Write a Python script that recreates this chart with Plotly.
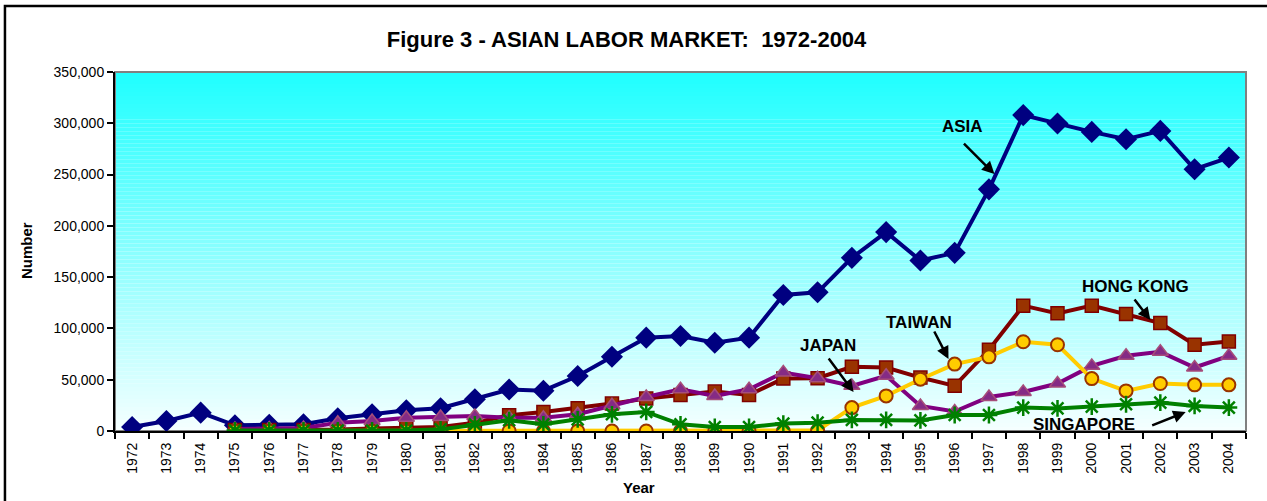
import plotly.graph_objects as go

# data
years = [str(y) for y in range(1972, 2005)]

asia = [3900, 9800, 17900, 5500, 6000, 6500, 12400, 16300, 20200, 22200, 31000,
        40500, 39300, 53600, 72400, 91000, 92600, 86100, 91000, 132600, 135200,
        168800, 193900, 166200, 173700, 235600, 308000, 299800, 291600, 284500,
        292600, 255200, 266600]

hong_kong = [None, None, None, 1000, 1000, 1000, 1500, 2500, 3200, 3900, 8100,
             15300, 18600, 22200, 26700, 31600, 35100, 38400, 35100, 51100, 51500,
             62600, 61900, 52100, 44000, 79200, 122200, 114700, 122200, 114100,
             105300, 84100, 87300]

japan = [None, None, None, 2000, 2500, 3000, 8100, 9800, 13000, 13700, 14700,
         13000, 13000, 16300, 25100, 33200, 40700, 34200, 40700, 57000, 51500,
         44000, 53800, 24400, 19000, 33200, 38100, 46300, 63500, 73300, 77200,
         61900, 73300]

taiwan = [None, None, None, 0, 0, 0, 0, 0, 0, 0, 0,
          0, 0, 0, 0, 0, 0, 0, 0, 0, 500,
          22800, 34200, 50500, 65200, 72300, 87000, 84100, 51100, 39100, 46300,
          45000, 45000]

singapore = [None, None, None, 500, 500, 500, 500, 500, 500, 1600, 6500,
             10500, 6500, 11400, 16300, 18600, 6500, 3900, 3900, 7200, 8100,
             10800, 10800, 10300, 15600, 15600, 22800, 22000, 23800, 26100, 27700,
             24400, 22800]

FONT = "Liberation Sans, Arial, sans-serif"

fig = go.Figure()

fig.add_trace(go.Scatter(x=years, y=asia, name="ASIA", mode="lines+markers",
                         line=dict(color="#000080", width=4),
                         marker=dict(symbol="diamond", size=17, color="#000080")))
fig.add_trace(go.Scatter(x=years, y=hong_kong, name="HONG KONG", mode="lines+markers",
                         line=dict(color="#800000", width=4),
                         marker=dict(symbol="square", size=13, color="#993300",
                                     line=dict(color="#800000", width=1.5))))
fig.add_trace(go.Scatter(x=years, y=japan, name="JAPAN", mode="lines+markers",
                         line=dict(color="#800080", width=4),
                         marker=dict(symbol="triangle-up", size=14, color="#852b85",
                                     line=dict(color="#a64d79", width=1.5))))
fig.add_trace(go.Scatter(x=years, y=taiwan, name="TAIWAN", mode="lines+markers",
                         line=dict(color="#FFCC00", width=4),
                         marker=dict(symbol="circle", size=13, color="#FFCC00",
                                     line=dict(color="#993300", width=2))))
fig.add_trace(go.Scatter(x=years, y=singapore, name="SINGAPORE", mode="lines+markers",
                         line=dict(color="#008000", width=4),
                         marker=dict(symbol="asterisk-open", size=14,
                                     line=dict(color="#008000", width=2.5))))

# gradient plot background (cyan at top fading to near white)
shapes = []
n = 90
for i in range(n):
    t = i / (n - 1)
    r = int(245 - (245 - 32) * t)
    shapes.append(dict(type="rect", xref="paper", yref="paper",
                       x0=0, x1=1, y0=i / n, y1=(i + 1) / n,
                       fillcolor=f"rgb({r},255,255)", line=dict(width=0),
                       layer="below"))
# plot area border
shapes.append(dict(type="rect", xref="paper", yref="paper", x0=0, x1=1, y0=0, y1=1,
                   line=dict(color="#808080", width=2), layer="below"))
# outer chart frame (right and bottom edges run off the page)
shapes.append(dict(type="rect", xref="paper", yref="paper",
                   x0=-0.0973, x1=1.06, y0=-0.22, y1=1.1838,
                   line=dict(color="black", width=2.5), layer="below"))

labels = [
    ("ASIA", 24.23, 296400, 25.16, 250500, -32, -32),
    ("HONG KONG", 29.28, 140400, 29.71, 108200, -17, -22),
    ("TAIWAN", 22.97, 105300, 23.82, 70200, -15, -29),
    ("JAPAN", 20.29, 82900, 21.05, 38000, -26, -35),
    ("SINGAPORE", 27.76, 5900, 30.74, 18500, -35, 14),
]
annotations = []
for text, tx, ty, hx, hy, ax, ay in labels:
    annotations.append(dict(x=tx, y=ty, xref="x", yref="y", text=f"<b>{text}</b>",
                            showarrow=False, font=dict(family=FONT, size=17, color="black")))
    annotations.append(dict(x=hx, y=hy, xref="x", yref="y", text="", showarrow=True,
                            ax=ax, ay=ay, arrowhead=2, arrowsize=1, arrowwidth=2.5,
                            arrowcolor="black"))

# axis titles
annotations.append(dict(x=(27 - 115) / 1131, y=(431 - 250) / 359, xref="paper", yref="paper",
                        xanchor="center", yanchor="middle",
                        text="<b>Number</b>", textangle=-90, showarrow=False,
                        font=dict(family=FONT, size=15, color="black")))
annotations.append(dict(x=(639 - 115) / 1131, y=(431 - 487) / 359, xref="paper", yref="paper",
                        xanchor="center", yanchor="middle",
                        text="<b>Year</b>", showarrow=False,
                        font=dict(family=FONT, size=15, color="black")))

fig.update_layout(
    width=1267, height=501,
    margin=dict(l=115, r=21, t=72, b=70),
    paper_bgcolor="white", plot_bgcolor="white",
    showlegend=False,
    title=dict(text="<b>Figure 3 - ASIAN LABOR MARKET:&nbsp; 1972-2004</b>",
               x=0.4945, xanchor="center", y=1 - 39 / 501, yanchor="middle",
               font=dict(family=FONT, size=22, color="black")),
    shapes=shapes,
    annotations=annotations,
)

fig.update_xaxes(type="category", tickson="boundaries", ticks="outside", ticklen=6,
                 tickwidth=2, tickcolor="black", tickangle=-90, ticklabelstandoff=4,
                 tickfont=dict(family=FONT, size=14, color="black"),
                 showline=True, linecolor="black", linewidth=2, showgrid=False,
                 layer="below traces", range=[-0.5, 32.5])
fig.update_yaxes(range=[0, 350000], dtick=50000, tickformat=",", ticks="outside",
                 ticklen=6, tickwidth=2, tickcolor="black",
                 tickfont=dict(family=FONT, size=14, color="black"),
                 showline=True, linecolor="black", linewidth=2, showgrid=False,
                 zeroline=False, layer="below traces")

# drop the default page margin so the figure sits at the top-left corner
fig.write_html("out.html", config={"displayModeBar": False},
               post_script="document.body.style.margin='0';")
